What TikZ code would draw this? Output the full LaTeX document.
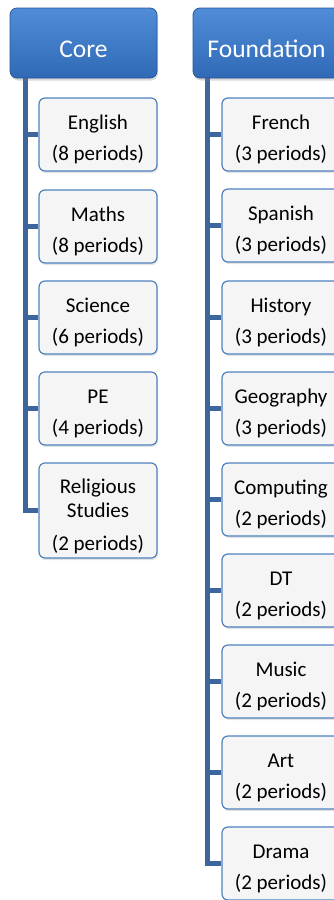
\documentclass[tikz,border=0pt]{standalone}
\usepackage{fontspec}
\setmainfont{Carlito}
\usetikzlibrary{shadows,backgrounds}
\definecolor{hdtop}{RGB}{80,140,216}
\definecolor{hdbot}{RGB}{48,106,182}
\definecolor{hdline}{RGB}{40,86,150}
\definecolor{boxline}{RGB}{79,129,189}
\definecolor{boxfill}{RGB}{245,245,245}
\definecolor{connc}{RGB}{62,102,158}
\tikzset{
  header/.style={rounded corners=7pt, top color=hdtop, bottom color=hdbot, draw=hdline, line width=0.8pt,
     minimum width=147pt, minimum height=70pt, inner sep=0pt,
     drop shadow={opacity=0.3, shadow xshift=1pt, shadow yshift=-2.5pt}},
  htext/.style={text=white, font=\fontsize{25.5pt}{30pt}\selectfont, anchor=base, inner sep=0pt},
  child/.style={rounded corners=6pt, fill=boxfill, draw=boxline, line width=1.2pt,
     minimum width=118pt, inner sep=0pt,
     drop shadow={opacity=0.22, shadow xshift=1pt, shadow yshift=-2pt}},
  ctext/.style={text=black, font=\fontsize{21pt}{25pt}\selectfont, anchor=base, inner sep=0pt},
  conn/.style={draw=connc, line width=5pt}
}
\newcommand\subjbox[5]{%
  \node[child, minimum height=73pt] (#1) at ({#2},{#3+36.5}) {};
  \node[ctext] (#1t) at ({#2},{#3+31}) {#4};
  \node[ctext] (#1p) at ({#2},{#3+62}) {#5};
}
\begin{document}
\begin{tikzpicture}[x=1pt,y=-1pt]
\useasboundingbox (0,0) rectangle (333,900);
% coordinates of the trunk lines
\coordinate (cl) at (25,70);
\coordinate (fl) at (207.5,70);
% headers
\node[header] (core) at (83.5,43) {};
\node[htext] (coret) at (83.5,57) {Core};
\node[header] (found) at (266.5,43) {};
\node[htext] (foundt) at (266.5,57) {Foundation};
% Core column boxes
\subjbox{eng}{98}{98}{English}{(8 periods)}
\subjbox{mat}{98}{190}{Maths}{(8 periods)}
\subjbox{sci}{98}{281}{Science}{(6 periods)}
\subjbox{pe}{98}{372}{PE}{(4 periods)}
\node[child, minimum height=95pt] (rs) at (98,510.5) {};
\node[ctext] (rst1) at (98,493) {Religious};
\node[ctext] (rst2) at (98,517) {Studies};
\node[ctext] (rsp) at (98,550) {(2 periods)};
% Foundation column boxes
\subjbox{fre}{281}{98}{French}{(3 periods)}
\subjbox{spa}{281}{189}{Spanish}{(3 periods)}
\subjbox{his}{281}{281}{History}{(3 periods)}
\subjbox{geo}{281}{372}{Geography}{(3 periods)}
\subjbox{com}{281}{463}{Computing}{(2 periods)}
\subjbox{dt}{281}{554}{DT}{(2 periods)}
\subjbox{mus}{281}{645}{Music}{(2 periods)}
\subjbox{art}{281}{736}{Art}{(2 periods)}
\subjbox{dra}{281}{827}{Drama}{(2 periods)}
% connectors
\begin{pgfonlayer}{background}
\draw[conn] (cl) |- (rs.west);
\foreach \n in {eng,mat,sci,pe}{\draw[conn] (cl |- \n.west) -- (\n.west);}
\draw[conn] (fl) |- (dra.west);
\foreach \n in {fre,spa,his,geo,com,dt,mus,art}{\draw[conn] (fl |- \n.west) -- (\n.west);}
\end{pgfonlayer}
\end{tikzpicture}
\end{document}
